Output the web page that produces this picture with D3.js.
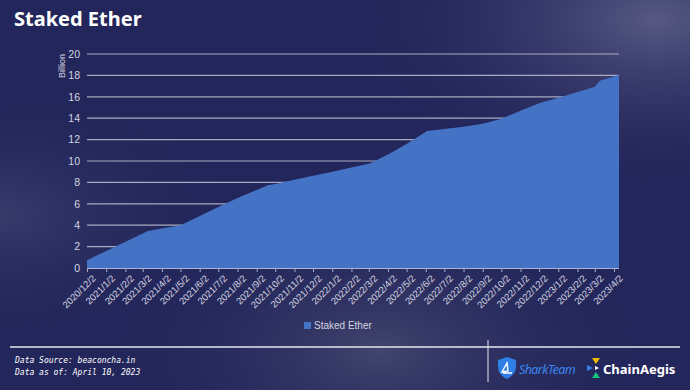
<!DOCTYPE html>
<html>
<head>
<meta charset="utf-8">
<script src="https://cdn.jsdelivr.net/npm/d3@7"></script>
<style>
  html, body { margin: 0; padding: 0; background: #22255a; }
  svg { display: block; }
</style>
</head>
<body>
<script>
"use strict";

var width = 690,
    height = 390;

// monthly tick labels on the x axis
const tickLabels = ["2020/12/2","2021/1/2","2021/2/2","2021/3/2","2021/4/2","2021/5/2","2021/6/2",
    "2021/7/2","2021/8/2","2021/9/2","2021/10/2","2021/11/2","2021/12/2","2022/1/2","2022/2/2",
    "2022/3/2","2022/4/2","2022/5/2","2022/6/2","2022/7/2","2022/8/2","2022/9/2","2022/10/2",
    "2022/11/2","2022/12/2","2023/1/2","2023/2/2","2023/3/2","2023/4/2"];

// staked ether readings (billion)
const dates = ["2020/12/2","2021/1/2","2021/2/2","2021/3/2","2021/3/10","2021/4/2","2021/5/2",
    "2021/6/2","2021/7/2","2021/8/2","2021/9/2","2021/9/20","2021/10/2","2021/11/2","2021/12/2",
    "2022/1/2","2022/2/2","2022/3/2","2022/3/6","2022/4/2","2022/5/2","2022/6/4","2022/7/2",
    "2022/8/2","2022/9/2","2022/10/2","2022/11/2","2022/12/2","2023/1/2","2023/2/2","2023/3/2",
    "2023/3/10","2023/4/2","2023/4/10"];
const values = [0.72,1.6,2.45,3.22,3.45,3.7,4.0,
    4.85,5.7,6.55,7.3,7.73,7.85,8.24,8.62,
    9.0,9.4,9.75,9.84,10.6,11.6,12.8,13.0,
    13.2,13.47,13.95,14.7,15.4,15.9,16.45,16.95,
    17.5,17.9,18.05];

const yTicks = [0,2,4,6,8,10,12,14,16,18,20];

const parse = d3.timeParse("%Y/%m/%d");

let svg = d3.select("body").append("svg")
    .attr("width", width)
    .attr("height", height);

// background
let defs = svg.append("defs");
let bg1 = defs.append("radialGradient").attr("id", "glowTR")
    .attr("cx", "95%").attr("cy", "5%").attr("r", "45%");
bg1.append("stop").attr("offset", "0%").attr("stop-color", "#5a5c86").attr("stop-opacity", 0.95);
bg1.append("stop").attr("offset", "100%").attr("stop-color", "#22255a").attr("stop-opacity", 0);
let bg2 = defs.append("radialGradient").attr("id", "glowB")
    .attr("cx", "55%").attr("cy", "90%").attr("r", "40%");
bg2.append("stop").attr("offset", "0%").attr("stop-color", "#45486f").attr("stop-opacity", 0.9);
bg2.append("stop").attr("offset", "100%").attr("stop-color", "#22255a").attr("stop-opacity", 0);
let bg3 = defs.append("radialGradient").attr("id", "glowL")
    .attr("cx", "0%").attr("cy", "55%").attr("r", "35%");
bg3.append("stop").attr("offset", "0%").attr("stop-color", "#3a3d6c").attr("stop-opacity", 0.9);
bg3.append("stop").attr("offset", "100%").attr("stop-color", "#22255a").attr("stop-opacity", 0);

svg.append("rect").attr("width", width).attr("height", height).attr("fill", "#23265a");
svg.append("rect").attr("width", width).attr("height", height).attr("fill", "url(#glowL)");
svg.append("rect").attr("width", width).attr("height", height).attr("fill", "url(#glowB)");
svg.append("rect").attr("width", width).attr("height", height).attr("fill", "url(#glowTR)");

// title
svg.append("text")
    .attr("x", 14).attr("y", 26)
    .attr("fill", "#ffffff")
    .attr("font-family", "Noto Sans, sans-serif")
    .attr("font-weight", "bold")
    .attr("font-size", 20)
    .text("Staked Ether");

// scales
let x = d3.scaleTime()
    .domain([parse(dates[0]), parse(dates[dates.length - 1])])
    .range([87, 619]);
let y = d3.scaleLinear()
    .domain([0, 20])
    .range([268, 54]);

// gridlines
svg.append("g").selectAll("line")
    .data(yTicks.filter(d => d > 0))
    .enter().append("line")
    .attr("x1", 87).attr("x2", 619)
    .attr("y1", d => y(d)).attr("y2", d => y(d))
    .attr("stroke", "#a9abc0")
    .attr("stroke-width", 1.2);

// area
let series = dates.map((d, i) => ({ date: parse(d), value: values[i] }));
let area = d3.area()
    .x(d => x(d.date))
    .y0(y(0))
    .y1(d => y(d.value));
svg.append("path")
    .datum(series)
    .attr("d", area)
    .attr("fill", "#4472c4");

// y axis labels
let yAxis = svg.append("g")
    .attr("transform", "translate(87,0)")
    .call(d3.axisLeft(y).tickValues(yTicks).tickSize(0).tickPadding(7));
yAxis.select(".domain").remove();
yAxis.selectAll("text")
    .attr("fill", "#d4d5e0")
    .attr("font-family", "Liberation Sans, Arial, sans-serif")
    .attr("font-size", 10.5);

svg.append("text")
    .attr("transform", "translate(65,66) rotate(-90)")
    .attr("text-anchor", "middle")
    .attr("fill", "#d4d5e0")
    .attr("font-family", "Liberation Sans, Arial, sans-serif")
    .attr("font-size", 9)
    .text("Billion");

// x axis
let tickDates = tickLabels.map(parse);
let xAxis = svg.append("g")
    .attr("transform", "translate(0," + y(0) + ")")
    .call(d3.axisBottom(x).tickValues(tickDates).tickSize(4).tickSizeOuter(0)
        .tickFormat((d, i) => tickLabels[i]));
xAxis.select(".domain").attr("stroke", "#a9b6dc").attr("stroke-width", 1.2)
    .attr("d", "M87,0.5H619");
xAxis.selectAll(".tick line").attr("stroke", "#a9abc0");
xAxis.selectAll("text")
    .attr("fill", "#d4d5e0")
    .attr("font-family", "Liberation Sans, Arial, sans-serif")
    .attr("font-size", 9.5)
    .attr("text-anchor", "end")
    .attr("dy", "0.3em")
    .attr("transform", "translate(2,4) rotate(-45)");

// legend
svg.append("rect")
    .attr("x", 304).attr("y", 322)
    .attr("width", 7).attr("height", 7)
    .attr("fill", "#4472c4");
svg.append("text")
    .attr("x", 314).attr("y", 329)
    .attr("fill", "#d4d5e0")
    .attr("font-family", "Liberation Sans, Arial, sans-serif")
    .attr("font-size", 10)
    .text("Staked Ether");

// footer
svg.append("line")
    .attr("x1", 10).attr("x2", 680)
    .attr("y1", 347).attr("y2", 347)
    .attr("stroke", "#e6e7f0").attr("stroke-width", 1.3);
svg.append("line")
    .attr("x1", 488).attr("x2", 488)
    .attr("y1", 340).attr("y2", 382)
    .attr("stroke", "#e6e7f0").attr("stroke-width", 1);

svg.append("text")
    .attr("x", 15).attr("y", 363)
    .attr("fill", "#ffffff")
    .attr("font-family", "DejaVu Sans Mono, monospace")
    .attr("font-style", "italic")
    .attr("font-size", 8)
    .text("Data Source: beaconcha.in");
svg.append("text")
    .attr("x", 15).attr("y", 375)
    .attr("fill", "#ffffff")
    .attr("font-family", "DejaVu Sans Mono, monospace")
    .attr("font-style", "italic")
    .attr("font-size", 8)
    .text("Data as of: April 10, 2023");

// SharkTeam logo
let shark = svg.append("g").attr("transform", "translate(497,357)");
shark.append("path")
    .attr("d", "M10,0 L19,3 L19,10 C19,16 14,20 10,22 C6,20 1,16 1,10 L1,3 Z")
    .attr("fill", "#2f7fe6");
shark.append("path")
    .attr("d", "M5,15 L10,6 L11,14 Z M6,16 L15,16")
    .attr("fill", "none")
    .attr("stroke", "#ffffff")
    .attr("stroke-width", 1.4);
svg.append("text")
    .attr("x", 519).attr("y", 374)
    .attr("fill", "#3b86f0")
    .attr("font-family", "Noto Sans, sans-serif")
    .attr("font-style", "italic")
    .attr("font-size", 12.5)
    .attr("letter-spacing", -0.6)
    .text("SharkTeam");

// ChainAegis logo
let aegis = svg.append("g").attr("transform", "translate(587,358)");
aegis.append("path").attr("d", "M5,0 L13,0 L9,6 Z").attr("fill", "#f5b800");
aegis.append("path").attr("d", "M0,7 L6,10 L0,13 Z").attr("fill", "#2f7fe6");
aegis.append("path").attr("d", "M5,20 L13,20 L9,14 Z").attr("fill", "#19c37d");
aegis.append("path").attr("d", "M8,8 L12,10 L8,12 Z").attr("fill", "#ffffff");
svg.append("text")
    .attr("x", 603).attr("y", 374)
    .attr("fill", "#ffffff")
    .attr("font-family", "Noto Sans, sans-serif")
    .attr("font-weight", "bold")
    .attr("font-size", 13)
    .text("ChainAegis");
</script>
</body>
</html>
